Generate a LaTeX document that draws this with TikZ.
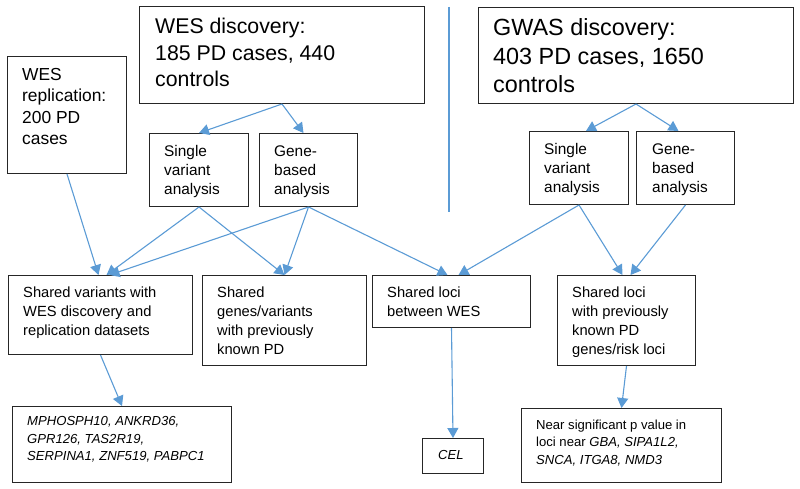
\documentclass[tikz,border=0pt]{standalone}
\usepackage{fontspec}
\setmainfont{Liberation Sans}
\usetikzlibrary{arrows.meta}
\definecolor{arr}{HTML}{5B9BD5}
\begin{document}
\begin{tikzpicture}[x=1pt,y=-1pt,
  box/.style={draw=black!85, line width=1pt, inner sep=0pt, anchor=north west},
  txt/.style={anchor=north west, inner sep=0pt, align=left},
  fwes/.style={font=\fontsize{21.3}{26.5}\selectfont},
  fgwas/.style={font=\fontsize{23.4}{28.5}\selectfont},
  frep/.style={font=\fontsize{17.4}{21.4}\selectfont},
  fana/.style={font=\fontsize{15.4}{19}\selectfont},
  fshr/.style={font=\fontsize{14.7}{19}\selectfont},
  fres/.style={font=\fontsize{13.1}{17.5}\selectfont},
  conn/.style={draw=arr, line width=1.1pt, -{Triangle[width=11pt,length=10pt]}},
  divline/.style={draw=arr, line width=1.1pt}]
\useasboundingbox (0,0) rectangle (800,489);
% boxes
\node[box, minimum width=119pt, minimum height=117pt] (rep) at (7,56) {};
\node[box, minimum width=285pt, minimum height=97pt] (wesd) at (139,6) {};
\node[box, minimum width=315pt, minimum height=96pt] (gwas) at (478,7) {};
\node[box, minimum width=99pt, minimum height=73pt] (wsing) at (149,133) {};
\node[box, minimum width=98pt, minimum height=73pt] (wgene) at (259,133) {};
\node[box, minimum width=99pt, minimum height=73pt] (gsing) at (529,131) {};
\node[box, minimum width=98pt, minimum height=73pt] (ggene) at (636,131) {};
\node[box, minimum width=184pt, minimum height=79pt] (shvar) at (8,275) {};
\node[box, minimum width=164pt, minimum height=90pt] (shgen) at (202,275) {};
\node[box, minimum width=158pt, minimum height=52pt] (shloc) at (372,275) {};
\node[box, minimum width=138pt, minimum height=90pt] (shprev) at (557,275) {};
\node[box, minimum width=219pt, minimum height=76pt] (genes) at (12,406) {};
\node[box, minimum width=61pt, minimum height=35pt] (cel) at (422,438) {};
\node[box, minimum width=200pt, minimum height=74pt] (near) at (521,408) {};
% texts
\node[txt, frep] (repT) at (22,65.1) {\strut WES\\replication:\\200 PD\\cases};
\node[txt, fwes] (wesdT) at (155,14.8) {\strut WES discovery:\\185 PD cases, 440\\controls};
\node[txt, fgwas] (gwasT) at (493,15.5) {\strut GWAS discovery:\\403 PD cases, 1650\\controls};
\node[txt, fana] (wsingT) at (164,143.4) {\strut Single\\variant\\analysis};
\node[txt, fana] (wgeneT) at (274,143.4) {\strut Gene-\\based\\analysis};
\node[txt, fana] (gsingT) at (544,141) {\strut Single\\variant\\analysis};
\node[txt, fana] (ggeneT) at (652,141) {\strut Gene-\\based\\analysis};
\node[txt, fshr] (shvarT) at (23,283.5) {\strut Shared variants with\\WES discovery and\\replication datasets};
\node[txt, fshr] (shgenT) at (217,283.5) {\strut Shared\\genes/variants\\with previously\\known PD};
\node[txt, fshr] (shlocT) at (387,283.5) {\strut Shared loci\\between WES};
\node[txt, fshr] (shprevT) at (572,284) {\strut Shared loci\\with previously\\known PD\\genes/risk loci};
\node[txt, fres] (genesT) at (27,413.4) {\strut\itshape MPHOSPH10, ANKRD36,\\\itshape GPR126, TAS2R19,\\\itshape SERPINA1, ZNF519, PABPC1};
\node[txt, fres] (celT) at (438,446.8) {\strut\itshape CEL};
\node[txt, fres] (nearT) at (536,416.8) {\strut Near significant p value in\\loci near \textit{GBA, SIPA1L2,}\\\itshape SNCA, ITGA8, NMD3};
% divider
\coordinate (divtop) at (449,7);
\coordinate (divbot) at (449,212);
\draw[divline] (divtop) -- (divbot);
% connectors
\draw[conn] (wesd.south) -- (wsing.north);
\draw[conn] (wesd.south) -- ([xshift=-5pt]wgene.north);
\draw[conn] (gwas.south) -- ([xshift=7pt]gsing.north);
\draw[conn] (gwas.south) -- ([xshift=-7pt]ggene.north);
\draw[conn] (rep.south) -- ([xshift=-2pt]shvar.north);
\draw[conn] (wsing.south) -- ([xshift=6pt]shvar.north);
\draw[conn] (wgene.south) -- ([xshift=9pt]shvar.north);
\draw[conn] (wsing.south) -- (shgen.north);
\draw[conn] (wgene.south) -- (shgen.north);
\draw[conn] (wgene.south) -- ([xshift=-4pt]shloc.north);
\draw[conn] (gsing.south) -- ([xshift=7pt]shloc.north);
\draw[conn] (gsing.south) -- ([xshift=-4pt]shprev.north);
\draw[conn] (ggene.south) -- ([xshift=4pt]shprev.north);
\draw[conn] (shvar.south) -- (genes.north);
\draw[conn] (shloc.south) -- (cel.north);
\draw[conn] (shprev.south) -- (near.north);
\end{tikzpicture}
\end{document}
